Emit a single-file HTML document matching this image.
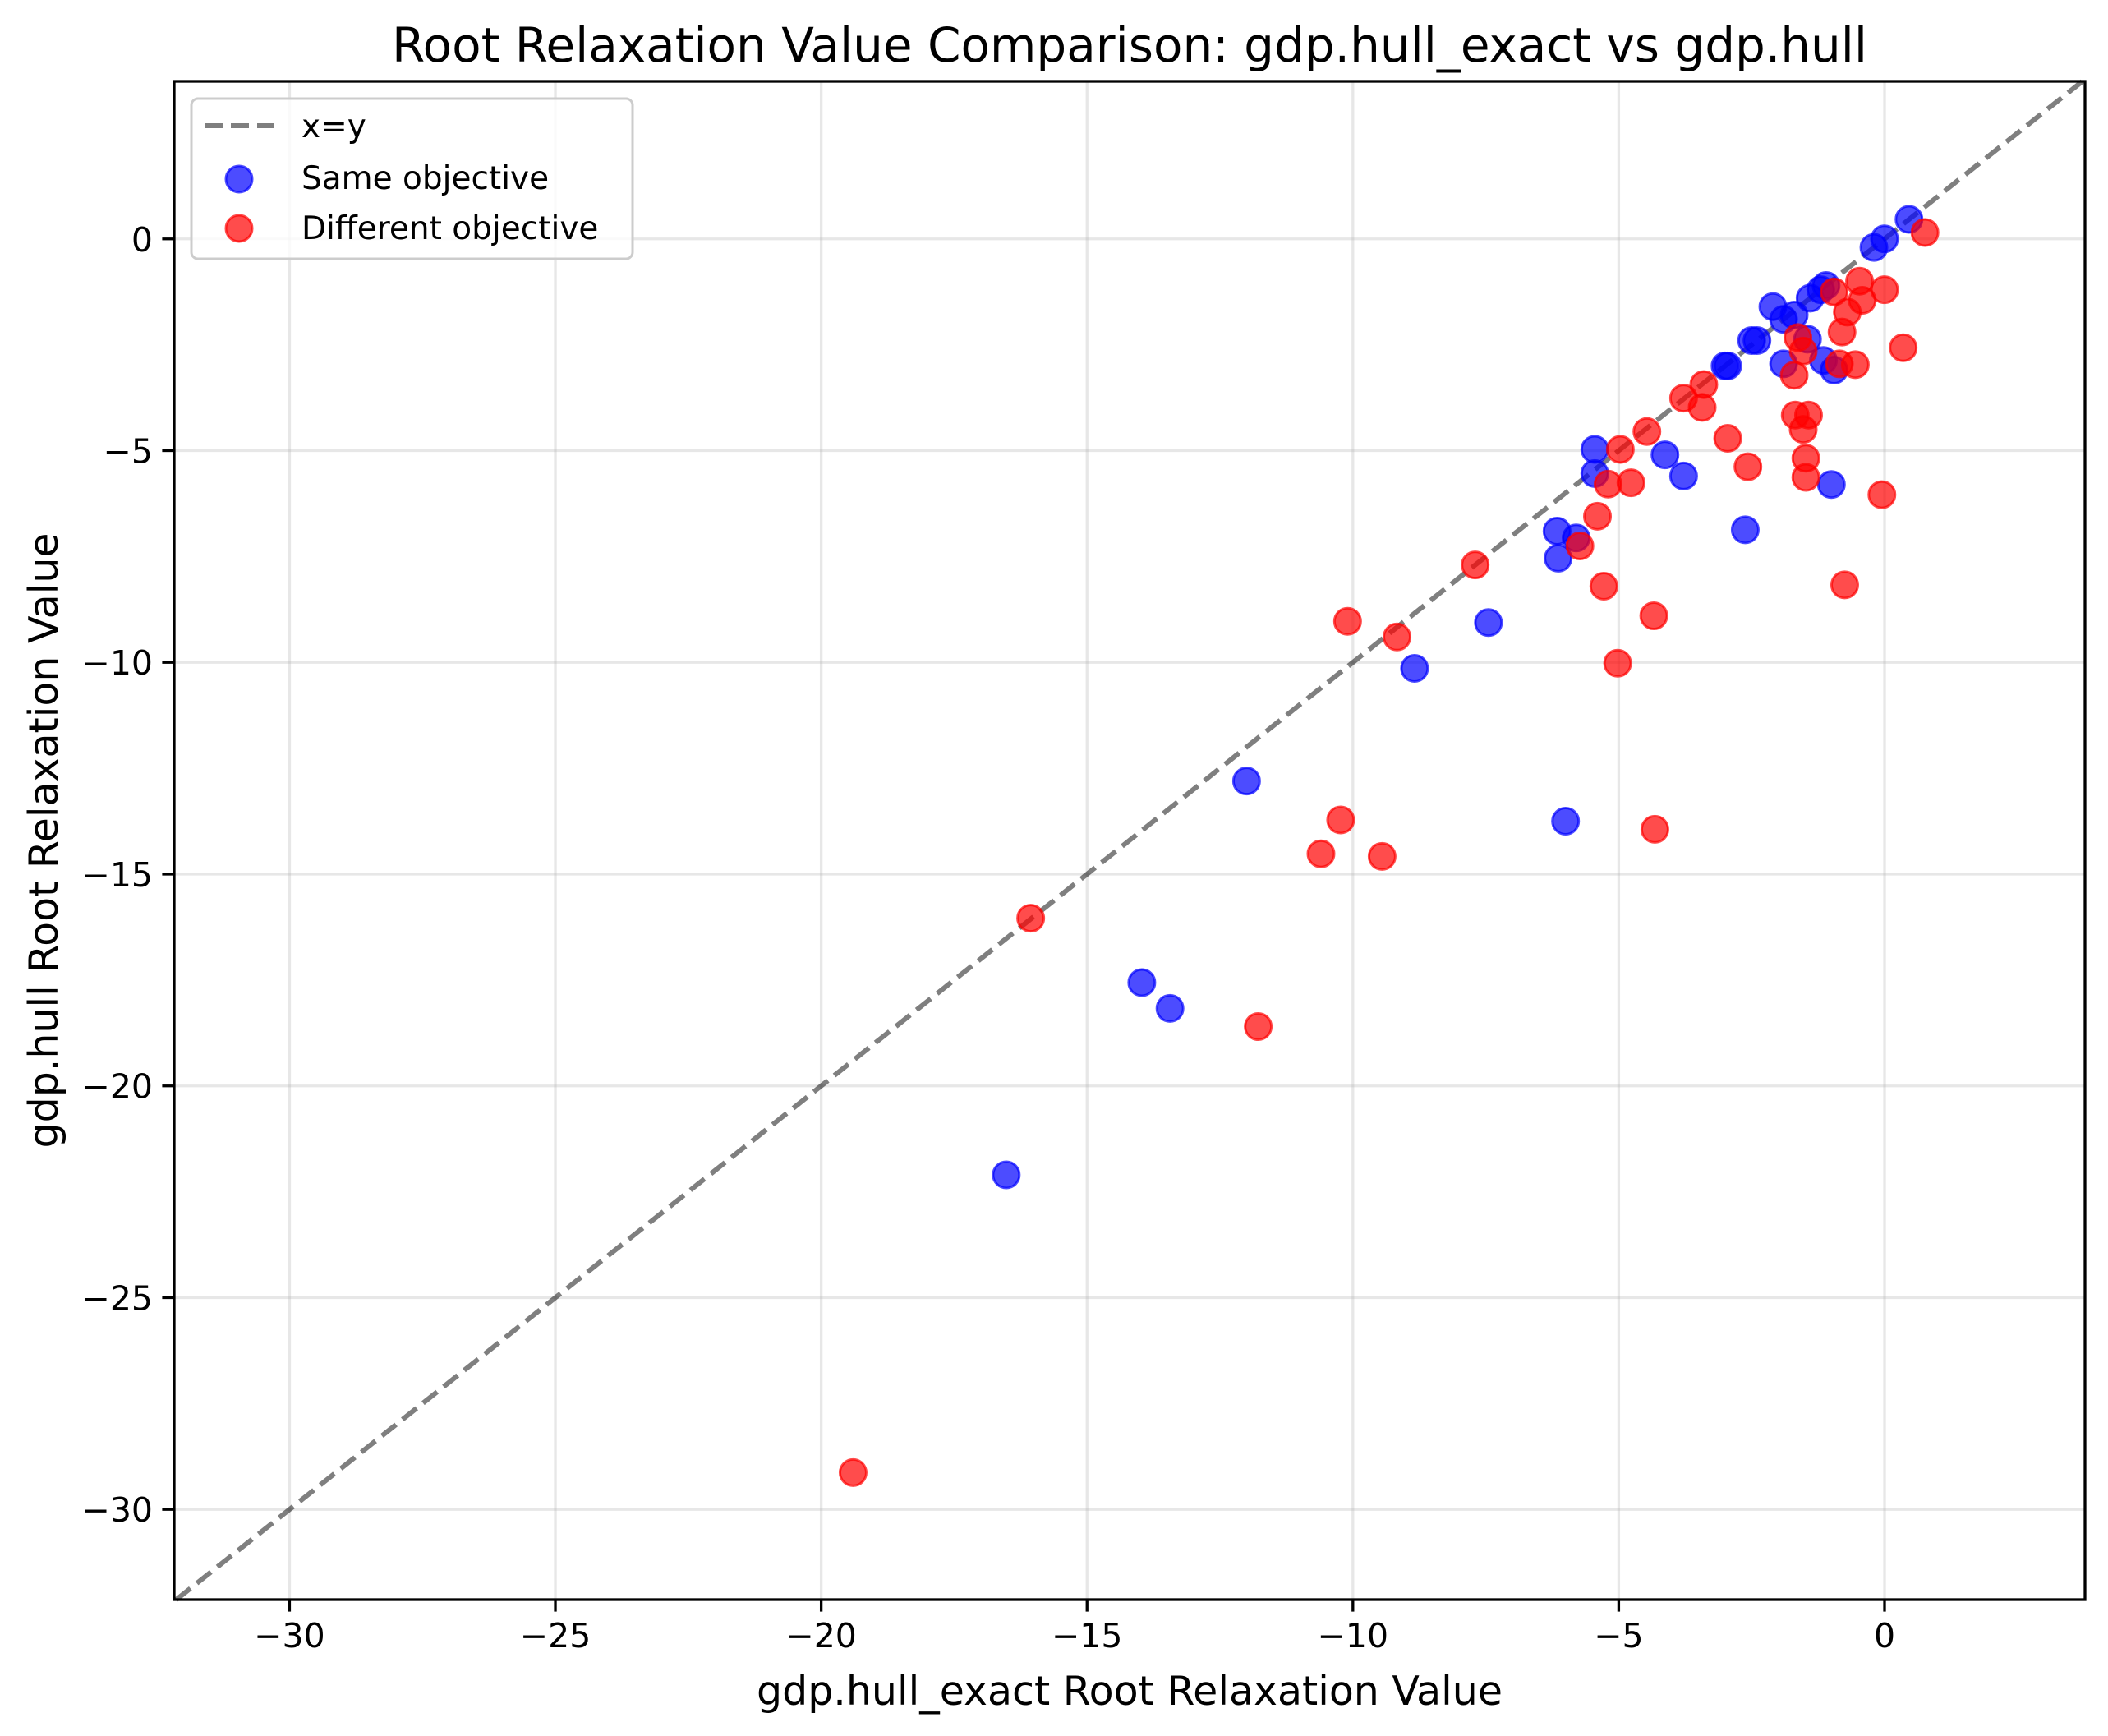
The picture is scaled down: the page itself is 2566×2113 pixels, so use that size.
<!DOCTYPE html>
<html><head><meta charset="utf-8"><style>
html,body{margin:0;padding:0;background:#fff}
svg{display:block;font-family:"DejaVu Sans","Liberation Sans",sans-serif}
</style></head><body>
<svg id="chart" width="2566" height="2113" viewBox="0 0 2566 2113" xmlns="http://www.w3.org/2000/svg">
<rect width="2566" height="2113" fill="#fff"/>
<g id="grid"></g>
<g id="diag"></g>
<g id="pts"></g>
<g id="axes"></g>
<text x="1375" y="75" font-size="58" text-anchor="middle">Root Relaxation Value Comparison: gdp.hull_exact vs gdp.hull</text>
<text x="1375" y="2075" font-size="49" text-anchor="middle">gdp.hull_exact Root Relaxation Value</text>
<text x="70" y="1023" font-size="49" text-anchor="middle" transform="rotate(-90 70 1023)">gdp.hull Root Relaxation Value</text>
<g>
<rect x="233" y="120" width="537" height="195" rx="8" fill="#fff" fill-opacity="0.8" stroke="#ccc" stroke-width="3"/>
<line x1="249" y1="153" x2="334" y2="153" stroke="#000" stroke-opacity="0.5" stroke-width="6" stroke-dasharray="22,10"/>
<text x="367" y="167" font-size="39">x=y</text>
<circle cx="291" cy="218" r="16" fill="blue" fill-opacity="0.7" stroke="blue" stroke-opacity="0.7" stroke-width="3"/>
<text x="367" y="230" font-size="39">Same objective</text>
<circle cx="291" cy="278" r="16" fill="red" fill-opacity="0.7" stroke="red" stroke-opacity="0.7" stroke-width="3"/>
<text x="367" y="291" font-size="39">Different objective</text>
</g>
</svg>
<script>
const xTicks=[-30,-25,-20,-15,-10,-5,0];
const yTicks=[0,-5,-10,-15,-20,-25,-30];
const sameX=[0.46,-0.2,0,-1.4,-1.2,-1.1,-2.1,-1.9,-1.7,-2.4,-2.5,-3.0,-2.95,-1.9,-1.45,-1.15,-0.95,-5.45,-5.45,-4.13,-3.78,-1.0,-6.16,-6.14,-5.8,-2.62,-7.45,-8.84,-12.0,-6.0,-13.97,-13.44,-16.52];
const sameY=[0.46,-0.2,0,-1.4,-1.2,-1.1,-1.6,-1.9,-1.8,-2.4,-2.4,-3.0,-3.0,-2.95,-2.37,-2.87,-3.1,-4.97,-5.54,-5.1,-5.6,-5.8,-6.9,-7.54,-7.06,-6.87,-9.06,-10.14,-12.8,-13.75,-17.56,-18.17,-22.1];
const diffX=[0.76,-0.47,0,-0.42,-0.95,-0.7,-0.8,-1.63,-1.53,-1.7,-0.85,-0.55,0.35,-1.68,-1.43,-1.53,-1.48,-1.48,-3.78,-3.4,-3.43,-4.47,-2.95,-2.57,-4.97,-5.2,-4.77,-5.4,-5.73,-5.28,-4.34,-5.02,-7.7,-0.75,-0.05,-10.1,-9.17,-10.23,-10.6,-9.45,-4.32,-16.06,-11.78,-19.4];
const diffY=[0.15,-1.0,-1.2,-1.45,-1.25,-1.73,-2.2,-2.33,-2.65,-3.22,-2.95,-2.97,-2.57,-4.16,-4.16,-4.5,-5.18,-5.63,-3.76,-3.44,-3.98,-4.55,-4.71,-5.38,-4.97,-5.79,-5.76,-6.55,-7.25,-8.2,-8.9,-10.02,-7.7,-8.17,-6.04,-9.03,-9.4,-13.72,-14.52,-14.58,-13.94,-16.04,-18.6,-29.13];
const L=212,R=2538,T=99,B=1947,MIN=-32.17,MAX=3.77,YMIN=-32.13,YMAX=3.72;
const sx=v=>L+(v-MIN)/(MAX-MIN)*(R-L);
const sy=v=>B-(v-YMIN)/(YMAX-YMIN)*(B-T);
const NS='http://www.w3.org/2000/svg';
function mk(t,a,p){const e=document.createElementNS(NS,t);for(const k in a)e.setAttribute(k,a[k]);p.appendChild(e);return e;}
const grid=document.getElementById('grid'),axes=document.getElementById('axes'),pts=document.getElementById('pts'),diag=document.getElementById('diag');
xTicks.forEach(v=>{
 const g=mk('line',{x1:sx(v),x2:sx(v),y1:T,y2:B,stroke:'#b0b0b0','stroke-opacity':0.3,'stroke-width':3.3},grid);
 
 const t=mk('line',{x1:sx(v),x2:sx(v),y1:B,y2:B+14.6,stroke:'#000','stroke-width':3.3},axes);
 
 const l=mk('text',{x:sx(v),y:B+58,'font-size':41,'text-anchor':'middle'},axes);
 
 l.textContent=v<0?'\u2212'+Math.abs(v):String(v);
});
yTicks.forEach(v=>{
 const g=mk('line',{x1:L,x2:R,y1:sy(v),y2:sy(v),stroke:'#b0b0b0','stroke-opacity':0.3,'stroke-width':3.3},grid);
 
 const t=mk('line',{x1:L-14.6,x2:L,y1:sy(v),y2:sy(v),stroke:'#000','stroke-width':3.3},axes);
 
 const l=mk('text',{x:L-26,y:sy(v)+15,'font-size':41,'text-anchor':'end'},axes);
 
 l.textContent=v<0?'\u2212'+Math.abs(v):String(v);
});
const lo=Math.max(MIN,YMIN),hi=Math.min(MAX,YMAX);
const d=mk('line',{x1:sx(lo),y1:sy(lo),x2:sx(hi),y2:sy(hi),stroke:'#000','stroke-opacity':0.5,'stroke-width':6,'stroke-dasharray':'22,10'},diag);

sameX.forEach((v,i)=>{
 const c=mk('circle',{cx:sx(v),cy:sy(sameY[i]),r:16,fill:'blue','fill-opacity':0.7,stroke:'blue','stroke-opacity':0.7,'stroke-width':3},pts);
 
});
diffX.forEach((v,i)=>{
 const c=mk('circle',{cx:sx(v),cy:sy(diffY[i]),r:16,fill:'red','fill-opacity':0.7,stroke:'red','stroke-opacity':0.7,'stroke-width':3},pts);
 
});
const f=mk('rect',{x:L,y:T,width:R-L,height:B-T,fill:'none',stroke:'#000','stroke-width':3.3},axes);

</script>
</body></html>
